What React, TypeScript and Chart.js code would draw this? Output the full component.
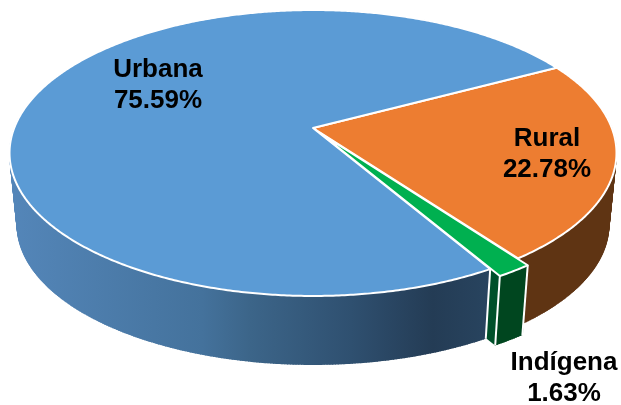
import React, { useEffect, useRef } from "react";
import { Chart, registerables } from "chart.js";

Chart.register(...registerables);

// Data, clockwise from the Rural / Urbana boundary
const categories = ["Rural", "Indígena", "Urbana"];
const shares = [22.78, 1.63, 75.59];
const shareLabels = ["22.78%", "1.63%", "75.59%"];

// Styles
const topColors = ["#ed7d31", "#00b050", "#5b9bd5"];
const wallColors = ["#5f3413", "#00461f", "#3c6589"];
const sideColor = "#00502a";
const labelCentres = [
  [547, 146],
  [564, 370],
  [158, 77],
];

// Perspective camera for the tilted disc
const CX = 313;
const CY = 128;
const AX = 298.8;
const BY = 138.6;
const K = 0.1748;
const FLOOR_SCALE = 0.975;
const FLOOR_CY = 201.2;
const ROTATION = 61.9;

type P = [number, number];
const project = (u: number, v: number, floor: boolean): P => {
  const w = 1 - K * v;
  const x = (AX * u) / w;
  const y = (BY * v) / w;
  return floor
    ? [CX + FLOOR_SCALE * x, FLOOR_CY + FLOOR_SCALE * y]
    : [CX + x, CY + y];
};

const arcPoints = (a0: number, a1: number, ex: number, ey: number, floor: boolean) => {
  const n = Math.max(2, Math.ceil((a1 - a0) / 0.008));
  const pts: P[] = [];
  for (let i = 0; i <= n; i++) {
    const t = a0 + ((a1 - a0) * i) / n;
    pts.push(project(ex + Math.cos(t), ey + Math.sin(t), floor));
  }
  return pts;
};

const trace = (ctx: CanvasRenderingContext2D, pts: P[]) => {
  ctx.beginPath();
  pts.forEach((p, i) => (i ? ctx.lineTo(p[0], p[1]) : ctx.moveTo(p[0], p[1])));
  ctx.closePath();
};

const pie3d = {
  id: "pie3d",
  beforeDatasetsDraw(chart: any) {
    const ctx: CanvasRenderingContext2D = chart.ctx;
    const arcs = chart.getDatasetMeta(0).data.map((arc: any, i: number) => {
      const { startAngle, endAngle, outerRadius } = arc.getProps(["startAngle", "endAngle", "outerRadius"]);
      const mid = (startAngle + endAngle) / 2;
      const e = (arc.options.offset || 0) / outerRadius;
      return { i, a0: startAngle, a1: endAngle, ex: e * Math.cos(mid), ey: e * Math.sin(mid), o: arc.options };
    });

    const blueWall = ctx.createLinearGradient(10, 0, 490, 0);
    blueWall.addColorStop(0, "#5486b9");
    blueWall.addColorStop(0.4, "#44729c");
    blueWall.addColorStop(0.5, wallColors[2]);
    blueWall.addColorStop(0.71, "#2f5070");
    blueWall.addColorStop(0.88, "#243c55");
    blueWall.addColorStop(1, "#28445f");

    const wall = (a: any, fill: string | CanvasGradient) => {
      const top = arcPoints(a.a0, a.a1, a.ex, a.ey, false);
      const bot = arcPoints(a.a0, a.a1, a.ex, a.ey, true);
      ctx.fillStyle = fill;
      ctx.strokeStyle = fill;
      ctx.lineWidth = 1;
      trace(ctx, [...top, ...bot.slice().reverse()]);
      ctx.fill();
      top.forEach((p, j) => {
        ctx.beginPath();
        ctx.moveTo(p[0], p[1]);
        ctx.lineTo(bot[j][0], bot[j][1]);
        ctx.stroke();
      });
    };

    const radialEdge = (a: any, angle: number, fill: string) => {
      const pts: P[] = [
        project(a.ex + Math.cos(angle), a.ey + Math.sin(angle), false),
        project(a.ex, a.ey, false),
        project(a.ex, a.ey, true),
        project(a.ex + Math.cos(angle), a.ey + Math.sin(angle), true),
      ];
      ctx.fillStyle = fill;
      trace(ctx, pts);
      ctx.fill();
    };

    const rim = (a: any, angle: number) => {
      const t = project(a.ex + Math.cos(angle), a.ey + Math.sin(angle), false);
      const b = project(a.ex + Math.cos(angle), a.ey + Math.sin(angle), true);
      ctx.strokeStyle = "#ffffff";
      ctx.lineWidth = 2;
      ctx.beginPath();
      ctx.moveTo(t[0], t[1]);
      ctx.lineTo(b[0], b[1]);
      ctx.stroke();
    };

    const [rural, indigena, urbana] = arcs;
    wall(rural, wallColors[0]);
    radialEdge(indigena, indigena.a1, sideColor);
    wall(indigena, wallColors[1]);
    rim(indigena, indigena.a0);
    rim(indigena, indigena.a1);
    wall(urbana, blueWall);
    rim(urbana, urbana.a0);

    [rural, urbana, indigena].forEach((a: any) => {
      const pts = [project(a.ex, a.ey, false), ...arcPoints(a.a0, a.a1, a.ex, a.ey, false)];
      trace(ctx, pts);
      ctx.fillStyle = a.o.backgroundColor;
      ctx.fill();
      ctx.strokeStyle = a.o.borderColor;
      ctx.lineWidth = a.o.borderWidth;
      ctx.lineJoin = "round";
      ctx.stroke();
    });
    return false;
  },
  afterDraw(chart: any) {
    const ctx: CanvasRenderingContext2D = chart.ctx;
    ctx.save();
    ctx.font = 'bold 26px "Liberation Sans"';
    ctx.fillStyle = "#000000";
    ctx.textAlign = "center";
    ctx.textBaseline = "alphabetic";
    categories.forEach((name, i) => {
      const [x, y] = labelCentres[i];
      ctx.fillText(name, x, y);
      ctx.fillText(shareLabels[i], x, y + 31);
    });
    ctx.restore();
  },
};

export default function App() {
  const ref = useRef<HTMLCanvasElement>(null);
  useEffect(() => {
    const chart = new Chart(ref.current as HTMLCanvasElement, {
      type: "pie",
      data: {
        labels: categories,
        datasets: [
          {
            data: shares,
            backgroundColor: topColors,
            borderColor: "#ffffff",
            borderWidth: 2,
            offset: [0, 8.5, 0],
          },
        ],
      },
      options: {
        animation: false,
        responsive: false,
        rotation: ROTATION,
        plugins: { legend: { display: false }, tooltip: { enabled: false } },
      },
      plugins: [pie3d],
    } as any);
    return () => chart.destroy();
  }, []);
  return (
    <div style={{ position: "absolute", left: 0, top: 0, width: 621, height: 405, background: "#ffffff" }}>
      <canvas ref={ref} width={621} height={405} style={{ display: "block" }} />
    </div>
  );
}
